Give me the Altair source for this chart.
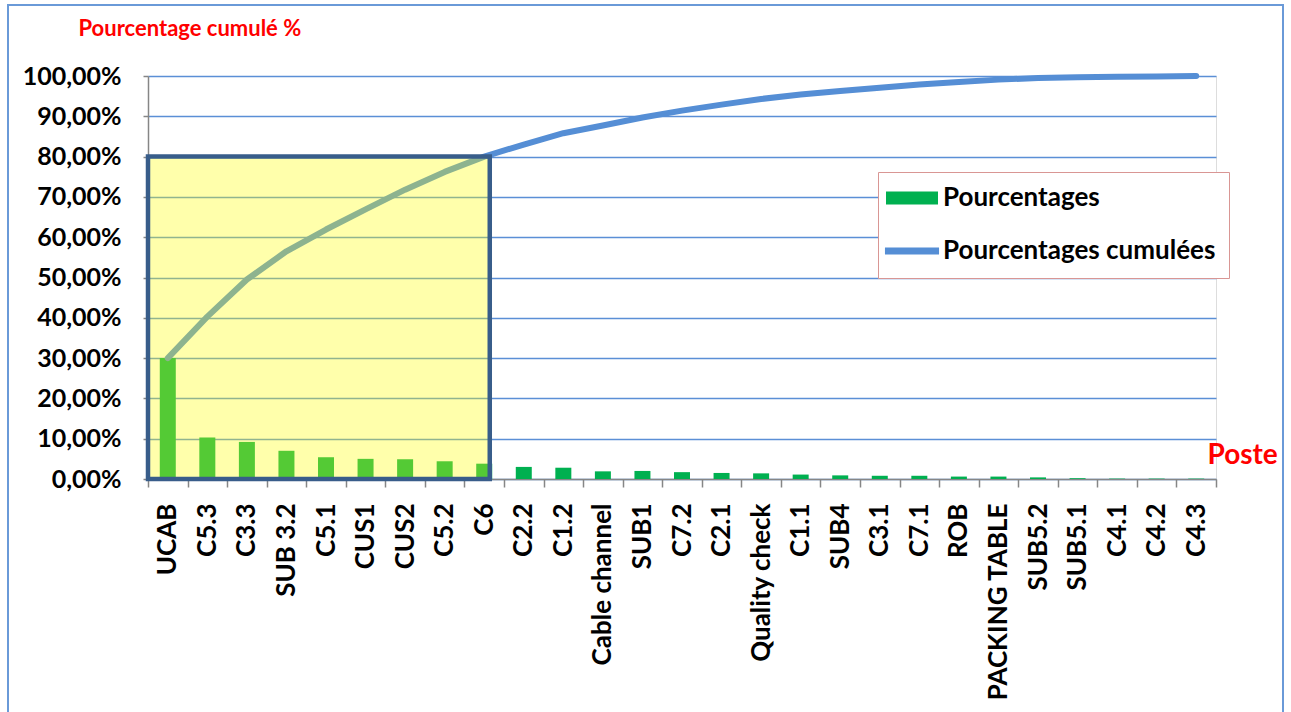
import altair as alt
import pandas as pd

postes = ["UCAB", "C5.3", "C3.3", "SUB 3.2", "C5.1", "CUS1", "CUS2", "C5.2", "C6",
          "C2.2", "C1.2", "Cable channel", "SUB1", "C7.2", "C2.1", "Quality check",
          "C1.1", "SUB4", "C3.1", "C7.1", "ROB", "PACKING TABLE", "SUB5.2", "SUB5.1",
          "C4.1", "C4.2", "C4.3"]
pourcentages = [30.0, 10.3, 9.2, 7.0, 5.4, 5.0, 4.9, 4.4, 3.8,
                3.0, 2.8, 1.9, 2.0, 1.7, 1.5, 1.4,
                1.1, 0.9, 0.8, 0.8, 0.6, 0.6, 0.4, 0.2,
                0.1, 0.1, 0.1]
cumules = [30.0, 40.3, 49.5, 56.5, 61.9, 66.9, 71.8, 76.2, 80.0,
           83.0, 85.8, 87.7, 89.7, 91.4, 92.9, 94.3,
           95.4, 96.3, 97.1, 97.9, 98.5, 99.1, 99.5, 99.7,
           99.8, 99.9, 100.0]
series = ["Pourcentages", "Pourcentages cumulées"]
series_colors = ["#00B050", "#558ED5"]
zone_debut, zone_fin, zone_bas, zone_haut = "UCAB", "C6", 0, 80

df = pd.DataFrame({"Poste": postes, "Pct": pourcentages, "Cum": cumules})
df["SerieB"] = series[0]
df["SerieL"] = series[1]

FONT = "Lato"
W, H = 1068, 403

x_axis = alt.Axis(
    title="Poste", titleAngle=0, titleX=1059, titleY=-24, titleAlign="left",
    titleBaseline="middle", titleColor="#FF0000", titleFont=FONT, titleFontSize=28,
    titleFontWeight="bold",
    labelAngle=270, labelFont=FONT, labelFontSize=26, labelFontWeight="bold",
    labelColor="black", labelPadding=16, tickBand="extent", tickSize=8,
    tickColor="#868686", tickWidth=1.5, domainColor="#868686", domainWidth=1.5,
    grid=False, labelLimit=400,
)
y_axis = alt.Axis(
    values=list(range(0, 101, 10)),
    labelExpr="replace(format(datum.value, '.2f'), '.', ',') + '%'",
    title="Pourcentage cumulé %", titleAngle=0, titleX=-70, titleY=-48,
    titleAlign="left", titleBaseline="middle", titleColor="#FF0000",
    titleFont=FONT, titleFontSize=22, titleFontWeight="bold",
    labelFont=FONT, labelFontSize=25, labelFontWeight="bold", labelColor="black",
    labelPadding=22, tickSize=5, tickColor="#868686", tickWidth=1.5,
    domainColor="#868686", domainWidth=1.5,
    grid=True, gridColor="#5B8FD6", gridWidth=1.5,
)
x_scale = alt.Scale(domain=postes, paddingInner=0, paddingOuter=0)
y_scale = alt.Scale(domain=[0, 100], nice=False)
color_scale = alt.Scale(domain=series, range=series_colors)

sig_is_bar = "datum.value === 'Pourcentages'"
legend = alt.Legend(
    title=None, orient="none", legendX=730, legendY=96, direction="vertical",
    labelFont=FONT, labelFontSize=26, labelFontWeight="bold", labelColor="black",
    symbolSize=2704, symbolOffset=8, labelOffset=18, rowPadding=26, padding=13,
    strokeColor="#D99694", fillColor="white", labelLimit=400, symbolOpacity=1,
    symbolType=alt.ExprRef(expr=f"{sig_is_bar} ? 'M-1,-0.25H1V0.25H-1Z' : 'M-1.04,0H1.04'"),
    symbolFillColor=alt.ExprRef(expr=f"{sig_is_bar} ? '#00B050' : 'transparent'"),
    symbolStrokeColor=alt.ExprRef(expr=f"{sig_is_bar} ? 'transparent' : '#558ED5'"),
    symbolStrokeWidth=alt.ExprRef(expr=f"{sig_is_bar} ? 0 : 7"),
)

base = alt.Chart(df)

bars = base.mark_bar(width=16).encode(
    x=alt.X("Poste:N", scale=x_scale, axis=x_axis),
    y=alt.Y("Pct:Q", scale=y_scale, axis=y_axis),
    color=alt.Color("SerieB:N", scale=color_scale, legend=legend),
)

line = base.mark_line(strokeWidth=6, strokeCap="round", strokeJoin="round").encode(
    x=alt.X("Poste:N", scale=x_scale, axis=x_axis),
    y=alt.Y("Cum:Q", scale=y_scale, axis=y_axis),
    color=alt.Color("SerieL:N", scale=color_scale, legend=legend),
)

zone_df = pd.DataFrame({"d": [zone_debut], "f": [zone_fin], "b": [zone_bas], "h": [zone_haut]})
zone = alt.Chart(zone_df).mark_rect(
    fill="#FFFF00", fillOpacity=0.33, stroke="#385D8A", strokeWidth=4.5, strokeOpacity=1
).encode(
    x=alt.X("d:N", scale=x_scale, axis=x_axis, bandPosition=0),
    x2=alt.X2("f", bandPosition=0.64),
    y=alt.Y("b:Q", scale=y_scale, axis=y_axis),
    y2=alt.Y2("h"),
)

frame = alt.Chart(pd.DataFrame({"a": [0]})).mark_rect(
    fill="transparent", stroke="#6A9AD8", strokeWidth=2
).encode(
    x=alt.value(-140), x2=alt.value(1135), y=alt.value(-71), y2=alt.value(700)
)

chart = alt.layer(bars, line, zone, frame).properties(
    width=W, height=H,
    autosize=alt.AutoSizeParams(type="none"),
    padding={"left": 148, "top": 76, "right": 75, "bottom": 233},
).configure_view(stroke=None).configure(font=FONT)

chart.save("out.html", embed_options={"renderer": "svg", "actions": False})
